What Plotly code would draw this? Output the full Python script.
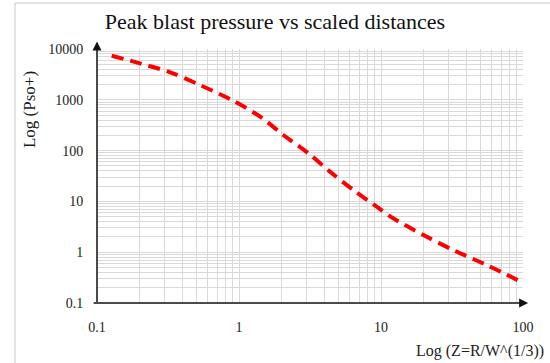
import plotly.graph_objects as go

# Data
z_scaled = [0.127, 0.20, 0.327, 0.53, 0.89, 1.41, 2.05, 3.08, 4.37, 6.38, 9.33, 12.2, 19.9, 32.3, 55.5, 100]
p_so = [7380, 5230, 3480, 1955, 990, 465, 203, 88.5, 38.5, 16.8, 7.87, 4.65, 2.18, 1.10, 0.56, 0.25]

x_decades = [0.1, 1, 10, 100]
y_decades = [0.1, 1, 10, 100, 1000, 10000]
x_tick_labels = ["0.1", "1", "10", "100"]
y_tick_labels = ["0.1", "1", "10", "100", "1000", "10000"]

def grid_vals(decades):
    vals = []
    for i, d in enumerate(decades):
        vals.append(d)
        if i < len(decades) - 1:
            for m in range(2, 10):
                vals.append(d * m)
    return vals

x_vals = grid_vals(x_decades)
y_vals = grid_vals(y_decades)
x_text = [x_tick_labels[x_decades.index(v)] if v in x_decades else "" for v in x_vals]
y_text = [y_tick_labels[y_decades.index(v)] if v in y_decades else "" for v in y_vals]

FONT = "Liberation Serif"

fig = go.Figure()
fig.add_trace(go.Scatter(
    x=z_scaled, y=p_so, mode="lines",
    line=dict(color="#ff0000", width=4, dash="12px,7px", shape="spline", smoothing=0.9),
    showlegend=False,
))

fig.update_layout(
    width=550, height=363,
    margin=dict(l=97, r=27, t=49, b=60),
    paper_bgcolor="white", plot_bgcolor="white",
    font=dict(family=FONT, size=14, color="#222222"),
    title=dict(text="Peak blast pressure vs scaled distances", x=0.5, xref="container",
               y=0.94, yref="container", xanchor="center", yanchor="middle",
               font=dict(family=FONT, size=22, color="#111111")),
    xaxis=dict(type="log", range=[-1, 2], tickvals=x_vals, ticktext=x_text,
               showgrid=True, gridcolor="#d9d9d9", gridwidth=1, zeroline=False,
               showline=False, ticks="outside", ticklen=11, tickcolor="rgba(0,0,0,0)",
               tickfont=dict(family=FONT, size=14, color="#222222")),
    yaxis=dict(type="log", range=[-1, 4], tickvals=y_vals, ticktext=y_text,
               showgrid=True, gridcolor="#d9d9d9", gridwidth=1, zeroline=False,
               showline=False, ticks="outside", ticklen=10, tickcolor="rgba(0,0,0,0)",
               tickfont=dict(family=FONT, size=14, color="#222222")),
)

# Y axis title (placed high, as in the reference)
fig.add_annotation(x=-0.157, y=0.76, xref="paper", yref="paper", xanchor="center",
                   yanchor="middle", textangle=-90, showarrow=False, text="Log (Pso+)",
                   font=dict(family=FONT, size=17, color="#1a1a1a"))

# Axis arrows
fig.add_annotation(x=0, y=1.03, xref="paper", yref="paper", ax=0, ay=262,
                   showarrow=True, arrowhead=2, arrowsize=1.2, arrowwidth=1.5,
                   arrowcolor="#111111", text="")
fig.add_annotation(x=1.012, y=0, xref="paper", yref="paper", ax=-436, ay=0,
                   showarrow=True, arrowhead=2, arrowsize=1.2, arrowwidth=1.5,
                   arrowcolor="#111111", text="")

# X axis title at bottom right
fig.add_annotation(x=1.055, y=-0.145, xref="paper", yref="paper", xanchor="right",
                   yanchor="top", showarrow=False, text="Log (Z=R/W^(1/3))",
                   font=dict(family=FONT, size=16, color="#222222"))

# Outer frame border
fig.add_shape(type="line", xref="paper", yref="paper", x0=-0.1925, x1=-0.1925,
              y0=1.181, y1=-0.3, line=dict(color="#c8c8c8", width=1))
fig.add_shape(type="line", xref="paper", yref="paper", x0=-0.1925, x1=1.1,
              y0=1.181, y1=1.181, line=dict(color="#c8c8c8", width=1))

fig.write_html("out.html")
